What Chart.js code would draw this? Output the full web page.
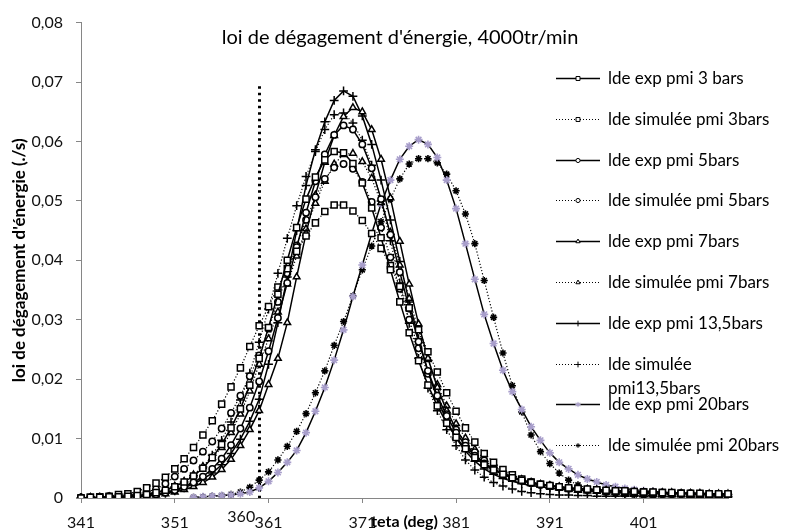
<!DOCTYPE html>
<html>
<head>
<meta charset="utf-8">
<script src="https://cdn.jsdelivr.net/npm/chart.js@4.4.1/dist/chart.umd.min.js"></script>
<style>
  html, body { margin: 0; padding: 0; background: #fff; }
  #wrap { width: 789px; height: 531px; }
</style>
</head>
<body>
<div id="wrap"><canvas id="c" width="789" height="531"></canvas></div>
<script>
// teta (deg), one category per degree
const teta = ['341','342','343','344','345','346','347','348','349','350',
  '351','352','353','354','355','356','357','358','359','360',
  '361','362','363','364','365','366','367','368','369','370',
  '371','372','373','374','375','376','377','378','379','380',
  '381','382','383','384','385','386','387','388','389','390',
  '391','392','393','394','395','396','397','398','399','400',
  '401','402','403','404','405','406','407','408','409','410'];

const yTicks = [0, 0.01, 0.02, 0.03, 0.04, 0.05, 0.06, 0.07, 0.08];

// loi de degagement d'energie (./s)
const exp3 = [0.0000,0.0001,0.0001,0.0002,0.0002,0.0003,0.0004,0.0006,0.0009,0.0013,
  0.0019,0.0027,0.0037,0.0050,0.0068,0.0090,0.0118,0.0150,0.0190,0.0235,
  0.0287,0.0343,0.0400,0.0455,0.0503,0.0540,0.0569,0.0583,0.0581,0.0563,
  0.0530,0.0488,0.0438,0.0384,0.0330,0.0278,0.0231,0.0190,0.0155,0.0126,
  0.0102,0.0083,0.0068,0.0056,0.0047,0.0040,0.0034,0.0030,0.0026,0.0023,
  0.0021,0.0019,0.0017,0.0016,0.0015,0.0014,0.0013,0.0012,0.0012,0.0011,
  0.0010,0.0010,0.0009,0.0009,0.0008,0.0008,0.0008,0.0007,0.0007,0.0007];
const sim3 = [0.0000,0.0001,0.0002,0.0003,0.0006,0.0007,0.0011,0.0017,0.0025,0.0035,
  0.0049,0.0066,0.0085,0.0106,0.0130,0.0158,0.0187,0.0219,0.0255,0.0290,
  0.0322,0.0355,0.0386,0.0415,0.0441,0.0463,0.0482,0.0493,0.0493,0.0483,
  0.0467,0.0445,0.0420,0.0391,0.0356,0.0320,0.0283,0.0246,0.0212,0.0177,
  0.0146,0.0118,0.0094,0.0075,0.0060,0.0048,0.0039,0.0032,0.0027,0.0023,
  0.0020,0.0018,0.0016,0.0015,0.0014,0.0013,0.0012,0.0011,0.0011,0.0010,
  0.0010,0.0009,0.0009,0.0008,0.0008,0.0007,0.0007,0.0007,0.0006,0.0006];
const exp5 = [0.0000,0.0000,0.0001,0.0001,0.0002,0.0002,0.0003,0.0004,0.0006,0.0009,
  0.0013,0.0019,0.0026,0.0036,0.0049,0.0066,0.0089,0.0117,0.0152,0.0196,
  0.0247,0.0303,0.0362,0.0422,0.0480,0.0533,0.0578,0.0611,0.0627,0.0620,
  0.0595,0.0555,0.0503,0.0443,0.0380,0.0319,0.0263,0.0214,0.0172,0.0138,
  0.0110,0.0088,0.0071,0.0058,0.0048,0.0040,0.0034,0.0029,0.0025,0.0022,
  0.0020,0.0018,0.0016,0.0015,0.0014,0.0013,0.0012,0.0011,0.0011,0.0010,
  0.0010,0.0009,0.0009,0.0008,0.0008,0.0008,0.0007,0.0007,0.0007,0.0006];
const sim5 = [0.0001,0.0001,0.0002,0.0003,0.0004,0.0005,0.0007,0.0010,0.0015,0.0024,
  0.0036,0.0049,0.0063,0.0078,0.0095,0.0117,0.0143,0.0172,0.0205,0.0240,
  0.0285,0.0330,0.0378,0.0425,0.0468,0.0506,0.0537,0.0556,0.0562,0.0554,
  0.0532,0.0498,0.0455,0.0405,0.0352,0.0300,0.0252,0.0209,0.0172,0.0141,
  0.0115,0.0094,0.0077,0.0063,0.0052,0.0043,0.0036,0.0031,0.0027,0.0023,
  0.0021,0.0019,0.0017,0.0015,0.0014,0.0013,0.0012,0.0011,0.0011,0.0010,
  0.0009,0.0009,0.0008,0.0008,0.0007,0.0007,0.0007,0.0006,0.0006,0.0006];
const exp7 = [0.0000,0.0000,0.0000,0.0001,0.0001,0.0002,0.0002,0.0003,0.0005,0.0007,
  0.0010,0.0014,0.0019,0.0026,0.0035,0.0048,0.0065,0.0088,0.0115,0.0147,
  0.0191,0.0235,0.0295,0.0372,0.0445,0.0510,0.0565,0.0610,0.0642,0.0657,
  0.0650,0.0620,0.0570,0.0505,0.0432,0.0360,0.0293,0.0235,0.0186,0.0147,
  0.0116,0.0092,0.0073,0.0059,0.0049,0.0041,0.0035,0.0030,0.0026,0.0023,
  0.0021,0.0019,0.0017,0.0016,0.0015,0.0014,0.0013,0.0012,0.0011,0.0011,
  0.0010,0.0010,0.0009,0.0009,0.0008,0.0008,0.0008,0.0007,0.0007,0.0007];
const sim7 = [0.0000,0.0001,0.0001,0.0002,0.0003,0.0004,0.0005,0.0007,0.0010,0.0014,
  0.0020,0.0028,0.0039,0.0053,0.0068,0.0085,0.0110,0.0141,0.0180,0.0225,
  0.0268,0.0313,0.0360,0.0407,0.0453,0.0496,0.0533,0.0562,0.0578,0.0580,
  0.0566,0.0538,0.0497,0.0447,0.0392,0.0336,0.0282,0.0233,0.0191,0.0155,
  0.0125,0.0101,0.0082,0.0066,0.0054,0.0044,0.0037,0.0031,0.0026,0.0022,
  0.0019,0.0017,0.0015,0.0013,0.0012,0.0011,0.0010,0.0009,0.0008,0.0008,
  0.0007,0.0007,0.0006,0.0006,0.0006,0.0005,0.0005,0.0005,0.0005,0.0004];
const exp135 = [0.0000,0.0000,0.0000,0.0001,0.0001,0.0002,0.0003,0.0004,0.0006,0.0008,
  0.0012,0.0017,0.0024,0.0032,0.0042,0.0056,0.0075,0.0099,0.0129,0.0166,
  0.0225,0.0295,0.0372,0.0450,0.0526,0.0586,0.0633,0.0669,0.0685,0.0676,
  0.0643,0.0595,0.0535,0.0468,0.0398,0.0330,0.0268,0.0213,0.0167,0.0130,
  0.0101,0.0079,0.0062,0.0049,0.0040,0.0033,0.0028,0.0024,0.0021,0.0019,
  0.0017,0.0015,0.0014,0.0013,0.0012,0.0011,0.0010,0.0010,0.0009,0.0009,
  0.0008,0.0008,0.0008,0.0007,0.0007,0.0007,0.0006,0.0006,0.0006,0.0006];
const sim135 = [0.0000,0.0000,0.0001,0.0001,0.0002,0.0003,0.0004,0.0006,0.0009,0.0013,
  0.0019,0.0027,0.0038,0.0052,0.0072,0.0097,0.0128,0.0165,0.0210,0.0262,
  0.0318,0.0378,0.0437,0.0492,0.0541,0.0583,0.0620,0.0645,0.0648,0.0631,
  0.0602,0.0560,0.0500,0.0433,0.0362,0.0294,0.0235,0.0185,0.0147,0.0115,
  0.0088,0.0064,0.0047,0.0035,0.0026,0.0020,0.0015,0.0011,0.0009,0.0007,
  0.0006,0.0005,0.0005,0.0004,0.0004,0.0003,0.0003,0.0003,0.0003,0.0003,
  0.0002,0.0002,0.0002,0.0002,0.0002,0.0002,0.0002,0.0002,0.0002,0.0002];
const exp20 = [null,null,null,null,null,null,null,null,null,null,
  null,null,0.0001,0.0002,0.0003,0.0004,0.0005,0.0007,0.0010,0.0017,
  0.0028,0.0043,0.0060,0.0080,0.0110,0.0146,0.0186,0.0232,0.0283,0.0339,
  0.0392,0.0445,0.0495,0.0535,0.0570,0.0592,0.0603,0.0595,0.0573,0.0535,
  0.0487,0.0428,0.0368,0.0309,0.0260,0.0215,0.0179,0.0149,0.0120,0.0097,
  0.0076,0.0060,0.0049,0.0039,0.0032,0.0027,0.0022,0.0019,0.0016,0.0014,
  0.0012,0.0011,0.0010,0.0009,0.0008,0.0007,0.0006,0.0005,0.0004,0.0003];
const sim20 = [null,null,null,null,null,null,null,null,null,null,
  null,null,0.0001,0.0002,0.0003,0.0004,0.0006,0.0010,0.0018,0.0030,
  0.0044,0.0064,0.0087,0.0112,0.0142,0.0177,0.0214,0.0257,0.0297,0.0340,
  0.0384,0.0424,0.0465,0.0503,0.0537,0.0562,0.0571,0.0571,0.0564,0.0545,
  0.0517,0.0478,0.0428,0.0366,0.0304,0.0244,0.0189,0.0145,0.0106,0.0078,
  0.0058,0.0042,0.0030,0.0022,0.0016,0.0012,0.0009,0.0007,0.0006,0.0005,
  0.0004,0.0004,0.0003,0.0003,0.0003,0.0002,0.0002,0.0002,0.0002,0.0002];

const seriesNames = [
  ['lde exp pmi 3 bars'],
  ['lde simulée pmi 3bars'],
  ['lde exp pmi 5bars'],
  ['lde simulée pmi 5bars'],
  ['lde exp pmi 7bars'],
  ['lde simulée pmi 7bars'],
  ['lde exp pmi 13,5bars'],
  ['lde simulée', 'pmi13,5bars'],
  ['lde exp pmi 20bars'],
  ['lde simulée pmi 20bars']
];
const seriesValues = [exp3, sim3, exp5, sim5, exp7, sim7, exp135, sim135, exp20, sim20];

// start of combustion marker
const markerAt = '360';
const markerTop = 0.0693;

const FONT = "Lato, 'Open Sans', sans-serif";
const LAVENDER = '#a89ecb';

// marker + line style for each series
const looks = [
  { marker: 'rect', dotted: false, color: '#000', r: 4.3 },
  { marker: 'rect', dotted: true, color: '#000', r: 4.3 },
  { marker: 'circle', dotted: false, color: '#000', r: 3.2 },
  { marker: 'circle', dotted: true, color: '#000', r: 3.2 },
  { marker: 'triangle', dotted: false, color: '#000', r: 3.8 },
  { marker: 'triangle', dotted: true, color: '#000', r: 3.8 },
  { marker: 'cross', dotted: false, color: '#000', r: 4.4 },
  { marker: 'cross', dotted: true, color: '#000', r: 4.4 },
  { marker: 'star', dotted: false, color: LAVENDER, r: 4 },
  { marker: 'star', dotted: true, color: '#000', r: 3.6 }
];

const datasets = seriesValues.map((vals, i) => {
  const lk = looks[i];
  return {
    label: seriesNames[i].join(' '),
    data: vals,
    borderColor: '#000',
    borderWidth: lk.dotted ? 1.2 : 1.5,
    borderDash: lk.dotted ? [1.2, 2] : [],
    pointStyle: lk.marker,
    pointRadius: lk.r,
    pointBorderWidth: lk.marker === 'star' ? 1.6 : 1.5,
    pointBorderColor: lk.color,
    pointBackgroundColor: '#fff',
    pointHoverRadius: lk.r,
    fill: false,
    tension: 0,
    spanGaps: false
  };
});

const decor = {
  id: 'decor',
  beforeDatasetsDraw(chart) {
    const ctx = chart.ctx;
    const xs = chart.scales.x, ys = chart.scales.y;
    const px = Math.round(xs.getPixelForValue(teta.indexOf(markerAt))) + 0.5;
    ctx.save();
    ctx.strokeStyle = '#000';
    ctx.lineWidth = 3;
    ctx.setLineDash([2.5, 4]);
    ctx.beginPath();
    ctx.moveTo(px, ys.getPixelForValue(markerTop));
    ctx.lineTo(px, ys.getPixelForValue(0));
    ctx.stroke();
    ctx.restore();
  },
  afterDraw(chart) {
    const ctx = chart.ctx;
    const xs = chart.scales.x;
    const area = chart.chartArea;
    ctx.save();
    ctx.fillStyle = '#000';
    // chart title
    ctx.font = '20px ' + FONT;
    ctx.textAlign = 'center';
    ctx.textBaseline = 'middle';
    ctx.fillText("loi de dégagement d'énergie, 4000tr/min", 400, 38);
    // label of the marker line
    ctx.fillStyle = '#111';
    ctx.font = '16px ' + FONT;
    ctx.textAlign = 'right';
    ctx.fillText(markerAt, xs.getPixelForValue(teta.indexOf(markerAt)) - 4, 517);
    // x axis title, sits on the tick label row
    ctx.fillStyle = '#000';
    ctx.font = 'bold 16px ' + FONT;
    ctx.textAlign = 'center';
    ctx.fillText('teta (deg)', (area.left + area.right) / 2, 522);
    // legend
    chart.data.datasets.forEach((ds, i) => {
      const lk = looks[i];
      const y = Math.round(78 + i * 40.8) + 0.5;
      ctx.strokeStyle = '#000';
      ctx.lineWidth = lk.dotted ? 1 : 1.5;
      ctx.setLineDash(lk.dotted ? [1, 2] : []);
      ctx.beginPath();
      ctx.moveTo(556, y);
      ctx.lineTo(600, y);
      ctx.stroke();
      ctx.setLineDash([]);
      ctx.fillStyle = '#fff';
      ctx.strokeStyle = lk.color;
      ctx.lineWidth = 1;
      Chart.helpers.drawPoint(ctx, { pointStyle: lk.marker, radius: lk.r * 0.65, borderWidth: 1, rotation: 0 }, 578, y);
      ctx.fillStyle = '#000';
      ctx.font = '17px ' + FONT;
      ctx.textAlign = 'left';
      ctx.textBaseline = 'middle';
      seriesNames[i].forEach((line, k) => ctx.fillText(line, 608, y + k * 24));
    });
    ctx.restore();
  }
};

new Chart(document.getElementById('c'), {
  type: 'line',
  data: { labels: teta, datasets: datasets },
  options: {
    responsive: false,
    animation: false,
    devicePixelRatio: 1,
    layout: { padding: { top: 17, right: 61, bottom: 0, left: 0 } },
    plugins: {
      legend: { display: false },
      tooltip: { enabled: false },
      title: { display: false }
    },
    scales: {
      x: {
        type: 'category',
        offset: false,
        afterFit: (s) => { s.height = 33; },
        border: { color: '#868686', width: 1 },
        grid: {
          drawOnChartArea: false,
          drawTicks: true,
          tickLength: 5,
          color: (c) => (c.index % 10 === 0 ? '#868686' : 'rgba(0,0,0,0)')
        },
        ticks: {
          autoSkip: false,
          maxRotation: 0,
          padding: 10,
          color: '#111',
          font: { family: FONT, size: 16 },
          callback: function (v, i) { return i % 10 === 0 ? this.getLabelForValue(v) : ''; }
        }
      },
      y: {
        min: 0,
        max: 0.08,
        afterFit: (s) => { s.width = 81; },
        afterBuildTicks: (s) => { s.ticks = yTicks.map(v => ({ value: v })); },
        border: { color: '#868686', width: 1 },
        grid: { drawOnChartArea: false, drawTicks: true, tickLength: 5, color: '#868686' },
        ticks: {
          padding: 13,
          color: '#111',
          font: { family: FONT, size: 16 },
          callback: (v) => (v === 0 ? '0' : v.toFixed(2).replace('.', ','))
        },
        title: {
          display: true,
          text: "loi de dégagement d'énergie (./s)",
          color: '#000',
          font: { family: FONT, size: 17, weight: 'bold' },
          padding: { top: 9, bottom: 0 }
        }
      }
    }
  },
  plugins: [decor]
});
</script>
</body>
</html>
